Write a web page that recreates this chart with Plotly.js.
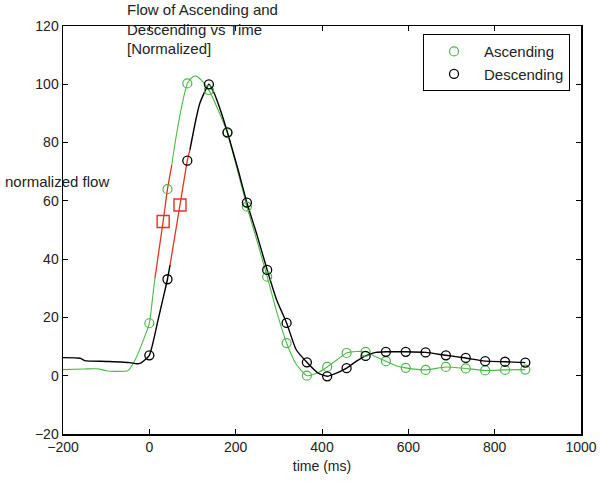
<!DOCTYPE html>
<html>
<head>
<meta charset="utf-8">
<script src="https://cdn.plot.ly/plotly-3.0.1.min.js"></script>
<style>html,body{margin:0;padding:0;background:#fff;}#chart{width:600px;height:486px;}</style>
</head>
<body>
<div id="chart"></div>
<script>
// ---- data ----
const markTime = [0, 42, 88, 138, 181, 226, 273, 318, 365, 412, 457, 501, 548, 594, 640, 687, 733, 778, 824, 871];
const ascMarkVal = [18, 64, 100.3, 98, 83.2, 58, 34, 11.2, 0, 3, 7.8, 8.2, 5, 2.7, 2, 3, 2.5, 1.8, 2, 2.1];
const descMarkVal = [7, 33.1, 73.8, 100, 83.5, 59.4, 36.3, 18.1, 4.6, -0.2, 2.6, 6.8, 8.2, 8.2, 8.0, 7.0, 6.1, 5.0, 4.8, 4.5];

const ascLineTime = [-200, -150, -120, -100, -80, -50, -40, -25, 0, 7, 13];
const ascLineVal  = [2.1, 2.3, 2.4, 1.7, 1.5, 1.7, 3.5, 8, 18, 26, 33.5];
const ascLine2Time = [52, 62, 75, 88, 100, 108, 120, 138, 160, 181, 205, 226, 250, 273, 295, 318, 340, 365, 390, 412, 435, 457, 480, 501, 525, 548, 570, 594, 640, 687, 733, 778, 824, 871];
const ascLine2Val  = [72.3, 82, 92.5, 100.3, 102.5, 102.8, 101.5, 98, 91, 83.2, 70, 58, 46, 34, 22, 11.2, 4, 0, 1, 3, 5.5, 7.8, 8.3, 8.2, 6.5, 5, 3.5, 2.7, 2, 3, 2.5, 1.8, 2, 2.1];
const ascRedTime = [13, 32, 42, 52];
const ascRedVal  = [33.5, 53, 64, 72.3];

const descLineTime = [-200, -160, -150, -100, -45, -30, -20, 0, 20, 31, 42, 48];
const descLineVal  = [6.2, 6.0, 5.2, 4.9, 4.5, 4.1, 4.3, 7, 19, 26, 33.1, 38];
const descLine2Time = [94, 108, 117, 138, 150, 165, 181, 205, 226, 250, 273, 295, 318, 340, 365, 390, 412, 435, 457, 480, 501, 525, 548, 594, 640, 687, 733, 778, 824, 871];
const descLine2Val  = [77.5, 88, 93.5, 100, 97, 91, 83.5, 71, 59.4, 48, 36.3, 26, 18.1, 9, 4.6, 1, -0.2, 1, 2.6, 5, 6.8, 8, 8.2, 8.2, 8.0, 7.0, 6.1, 5.0, 4.8, 4.5];
const descRedTime = [48, 71, 88, 94];
const descRedVal  = [38, 58.6, 73.8, 77.5];

const squareTime = [32, 71];
const squareVal  = [52.9, 58.6];

const xTicks = [-200, 0, 200, 400, 600, 800, 1000];
const yTicks = [-20, 0, 20, 40, 60, 80, 100, 120];

// ---- styles ----
const GREEN = '#4db848';
const RED = '#e5321f';
const BLACK = '#000000';
const FONT = 'Liberation Sans, Arial, sans-serif';

function line(x, y, color, w) {
  return {x: x, y: y, mode: 'lines', type: 'scatter', showlegend: false, hoverinfo: 'skip',
          line: {color: color, width: w, shape: 'spline', smoothing: 0.5}};
}

const traces = [
  line(ascLineTime, ascLineVal, GREEN, 1.1),
  line(ascLine2Time, ascLine2Val, GREEN, 1.1),
  line(descLineTime, descLineVal, BLACK, 1.4),
  line(descLine2Time, descLine2Val, BLACK, 1.4),
  line(ascRedTime, ascRedVal, RED, 1.3),
  line(descRedTime, descRedVal, RED, 1.3),
  {x: markTime, y: ascMarkVal, mode: 'markers', type: 'scatter', name: 'Ascending',
   marker: {symbol: 'circle-open', size: 9, color: GREEN, line: {width: 1.2, color: GREEN}}},
  {x: markTime, y: descMarkVal, mode: 'markers', type: 'scatter', name: 'Descending',
   marker: {symbol: 'circle-open', size: 9, color: BLACK, line: {width: 1.3, color: BLACK}}},
  {x: squareTime, y: squareVal, mode: 'markers', type: 'scatter', showlegend: false,
   marker: {symbol: 'square-open', size: 12, color: RED, line: {width: 1.4, color: RED}}}
];

const axisCommon = {
  showgrid: false, zeroline: false, showline: true, linecolor: BLACK, linewidth: 1.5,
  mirror: 'ticks', ticks: 'inside', ticklen: 5, tickwidth: 1, tickcolor: BLACK,
  tickfont: {family: FONT, size: 14, color: '#222'}
};

const layout = {
  width: 600, height: 486,
  margin: {l: 63, r: 19, t: 26, b: 52},
  paper_bgcolor: '#fff', plot_bgcolor: '#fff',
  font: {family: FONT, size: 14, color: BLACK},
  xaxis: Object.assign({}, axisCommon, {range: [-200, 1000], tickvals: xTicks,
          title: {text: 'time (ms)', font: {family: FONT, size: 14, color: '#222'}, standoff: 7}}),
  yaxis: Object.assign({}, axisCommon, {range: [-20, 120], tickvals: yTicks}),
  showlegend: true,
  legend: {x: 0.695, y: 0.98, xanchor: 'left', yanchor: 'top', bgcolor: '#fff',
           bordercolor: BLACK, borderwidth: 1, font: {family: FONT, size: 15, color: '#222'},
           itemwidth: 50},
  annotations: [
    {text: 'Flow of Ascending and<br>Descending vs Time<br>[Normalized]',
     xref: 'paper', yref: 'paper', x: (125 - 63) / 518, y: 1 + 27 / 408,
     xanchor: 'left', yanchor: 'top', align: 'left', showarrow: false,
     font: {family: FONT, size: 15, color: '#222'}},
    {text: 'normalized flow', xref: 'paper', yref: 'paper', x: (3 - 63) / 518, y: 0.618,
     xanchor: 'left', yanchor: 'middle', showarrow: false,
     font: {family: FONT, size: 15, color: '#222'}}
  ]
};

Plotly.newPlot('chart', traces, layout, {displayModeBar: false, staticPlot: true});
</script>
</body>
</html>
